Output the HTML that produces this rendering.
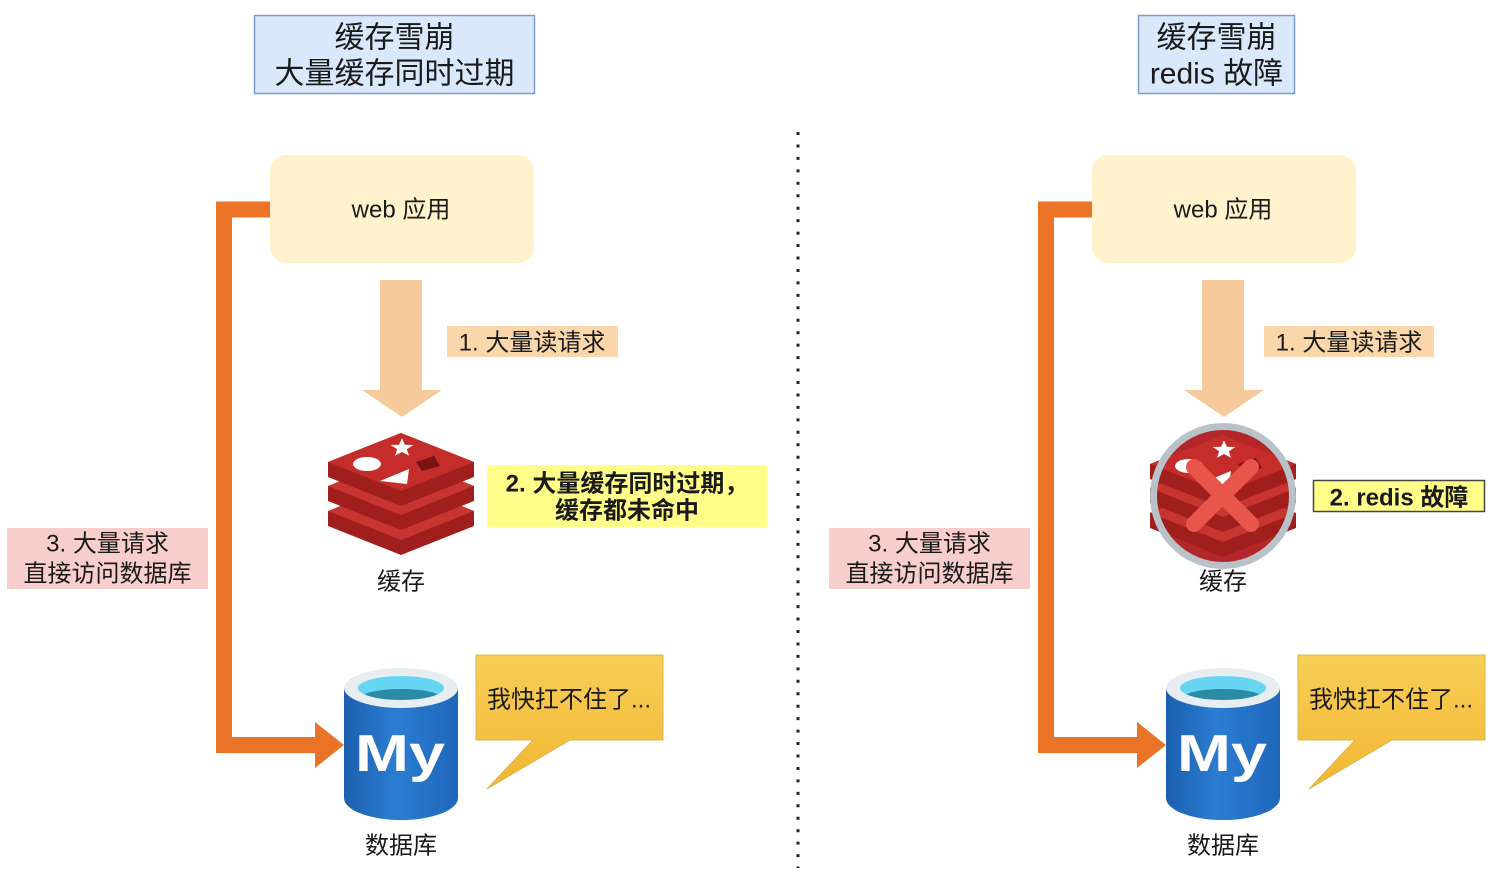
<!DOCTYPE html>
<html>
<head>
<meta charset="utf-8">
<style>
html,body{margin:0;padding:0;background:#fff;}
svg{display:block;}
text{font-family:"Liberation Sans","Noto Sans CJK SC",sans-serif;fill:#1a1a1a;}
</style>
</head>
<body>
<svg width="1510" height="872" viewBox="0 0 1510 872" xmlns="http://www.w3.org/2000/svg">
<defs>
  <linearGradient id="bub" x1="0" y1="0" x2="0" y2="1">
    <stop offset="0" stop-color="#f8cf56"/>
    <stop offset="1" stop-color="#f1b633"/>
  </linearGradient>
  <linearGradient id="cyl" x1="0" y1="0" x2="1" y2="0">
    <stop offset="0" stop-color="#1c5fae"/>
    <stop offset="0.45" stop-color="#2b7dd2"/>
    <stop offset="1" stop-color="#1f67ba"/>
  </linearGradient>
  <clipPath id="inner"><ellipse cx="401" cy="688" rx="43" ry="12"/></clipPath>
  <clipPath id="inner2"><ellipse cx="1223" cy="688" rx="43" ry="12"/></clipPath>

  <g id="redis">
    <!-- bottom layer -->
    <path d="M328,511 L401,482 L474,511 L474,526 L401,555 L328,526 Z" fill="#a01e1b"/>
    <path d="M401,482 L474,511 L401,540 L328,511 Z" fill="#c73530"/>
    <!-- middle layer -->
    <path d="M328,486 L401,457 L474,486 L474,501 L401,530 L328,501 Z" fill="#a01e1b"/>
    <path d="M401,457 L474,486 L401,515 L328,486 Z" fill="#c73530"/>
    <!-- top layer -->
    <path d="M328,462 L401,433 L474,462 L474,477 L401,506 L328,477 Z" fill="#a01e1b"/>
    <path d="M401,433 L474,462 L401,491 L328,462 Z" fill="#c42d2a"/>
    <!-- shapes -->
    <ellipse cx="367" cy="464" rx="14" ry="7" fill="#fff"/>
    <polygon points="402,438.4 404.9,444.8 413.4,445 406.8,449.2 409.1,455.8 402,452 394.9,455.8 397.2,449.2 390.6,445 399.1,444.8" fill="#fff"/>
    <polygon points="380,481 409,469 407,484" fill="#fff"/>
    <polygon points="416,462 434,456 440,466 422,471" fill="#7a1210"/>
  </g>

  <g id="mysql">
    <path d="M344,688 V798 A57,22 0 0 0 458,798 V688 Z" fill="url(#cyl)"/>
    <ellipse cx="401" cy="688" rx="57" ry="20" fill="#e7edf1"/>
    <ellipse cx="401" cy="688" rx="43" ry="12" fill="#66d6f2"/>
    <ellipse cx="401" cy="698" rx="40" ry="9" fill="#2a8ba6" clip-path="url(#inner)"/>
    <text x="355" y="771" font-size="52" font-weight="bold" textLength="90" lengthAdjust="spacingAndGlyphs" style="fill:#fff">My</text>
  </g>
</defs>

<!-- divider -->
<line x1="798" y1="132" x2="798" y2="868" stroke="#222" stroke-width="3" stroke-dasharray="3 9.45"/>

<!-- ================= LEFT ================= -->
<rect x="254.5" y="15.5" width="280" height="78" fill="#dae8fc" stroke="#7d9ccb" stroke-width="1.5"/>
<text x="394.5" y="47.5" font-size="30" text-anchor="middle">缓存雪崩</text>
<text x="394.5" y="83.5" font-size="30" text-anchor="middle">大量缓存同时过期</text>

<!-- orange connector -->
<polyline points="271,209.5 224,209.5 224,745 318,745" fill="none" stroke="#eb7328" stroke-width="16" stroke-linejoin="miter"/>
<polygon points="315,722 344,745 315,768" fill="#eb7328"/>

<rect x="270" y="155" width="264" height="108" rx="16" fill="#fff2cc"/>
<text x="401" y="217.5" font-size="24" text-anchor="middle">web 应用</text>

<!-- down arrow -->
<polygon points="380,280 422,280 422,390 442,390 402,417 362,390 380,390" fill="#f7ca9c"/>
<rect x="447" y="326" width="171" height="31" fill="#fad6ab"/>
<text x="532" y="350.5" font-size="24" text-anchor="middle">1. 大量读请求</text>

<use href="#redis"/>
<text x="401" y="589.5" font-size="24" text-anchor="middle">缓存</text>

<rect x="487" y="465" width="280" height="62" fill="#ffff8a"/>
<text x="627" y="491.5" font-size="24" font-weight="bold" text-anchor="middle">2. 大量缓存同时过期，</text>
<text x="627" y="518.5" font-size="24" font-weight="bold" text-anchor="middle">缓存都未命中</text>

<rect x="7" y="528" width="201" height="61" fill="#f8cecc"/>
<text x="107.5" y="551.5" font-size="24" text-anchor="middle">3. 大量请求</text>
<text x="107.5" y="581.5" font-size="24" text-anchor="middle">直接访问数据库</text>

<use href="#mysql"/>
<text x="401" y="853.5" font-size="24" text-anchor="middle">数据库</text>

<path d="M476,655 H663 V740 H570 L487,789 L533,740 H476 Z" fill="url(#bub)" stroke="#d9b552" stroke-width="1"/>
<text x="569" y="707.5" font-size="24" text-anchor="middle">我快扛不住了...</text>

<!-- ================= RIGHT ================= -->
<rect x="1138.5" y="15.5" width="156" height="78" fill="#dae8fc" stroke="#7d9ccb" stroke-width="1.5"/>
<text x="1216.5" y="47.5" font-size="30" text-anchor="middle">缓存雪崩</text>
<text x="1216.5" y="83.5" font-size="30" text-anchor="middle">redis 故障</text>

<polyline points="1093,209.5 1046,209.5 1046,745 1140,745" fill="none" stroke="#eb7328" stroke-width="16" stroke-linejoin="miter"/>
<polygon points="1137,722 1166,745 1137,768" fill="#eb7328"/>

<rect x="1092" y="155" width="264" height="108" rx="16" fill="#fff2cc"/>
<text x="1223" y="217.5" font-size="24" text-anchor="middle">web 应用</text>

<polygon points="1202,280 1244,280 1244,390 1264,390 1224,417 1184,390 1202,390" fill="#f7ca9c"/>
<rect x="1264" y="326" width="170" height="31" fill="#fad6ab"/>
<text x="1349" y="350.5" font-size="24" text-anchor="middle">1. 大量读请求</text>

<!-- failed redis -->
<circle cx="1223" cy="496" r="70" fill="#b3272a"/>
<use href="#redis" transform="translate(822,2)"/>
<circle cx="1223" cy="496" r="69.5" fill="none" stroke="#b9c1c9" stroke-width="7"/>
<line x1="1194" y1="467" x2="1251" y2="524" stroke="#e8564b" stroke-width="16" stroke-linecap="round"/>
<line x1="1251" y1="467" x2="1194" y2="524" stroke="#e8564b" stroke-width="16" stroke-linecap="round"/>
<text x="1223" y="589.5" font-size="24" text-anchor="middle">缓存</text>

<rect x="1313.5" y="480.5" width="171" height="31" fill="#ffff8a" stroke="#444" stroke-width="1.5"/>
<text x="1399" y="505.5" font-size="24" font-weight="bold" text-anchor="middle">2. redis 故障</text>

<rect x="829" y="528" width="201" height="61" fill="#f8cecc"/>
<text x="929.5" y="551.5" font-size="24" text-anchor="middle">3. 大量请求</text>
<text x="929.5" y="581.5" font-size="24" text-anchor="middle">直接访问数据库</text>

<g>
  <path d="M1166,688 V798 A57,22 0 0 0 1280,798 V688 Z" fill="url(#cyl)"/>
  <ellipse cx="1223" cy="688" rx="57" ry="20" fill="#e7edf1"/>
  <ellipse cx="1223" cy="688" rx="43" ry="12" fill="#66d6f2"/>
  <ellipse cx="1223" cy="698" rx="40" ry="9" fill="#2a8ba6" clip-path="url(#inner2)"/>
  <text x="1177" y="771" font-size="52" font-weight="bold" textLength="90" lengthAdjust="spacingAndGlyphs" style="fill:#fff">My</text>
</g>
<text x="1223" y="853.5" font-size="24" text-anchor="middle">数据库</text>

<path d="M1298,655 H1485 V740 H1392 L1309,789 L1355,740 H1298 Z" fill="url(#bub)" stroke="#d9b552" stroke-width="1"/>
<text x="1391" y="707.5" font-size="24" text-anchor="middle">我快扛不住了...</text>
</svg>
</body>
</html>
